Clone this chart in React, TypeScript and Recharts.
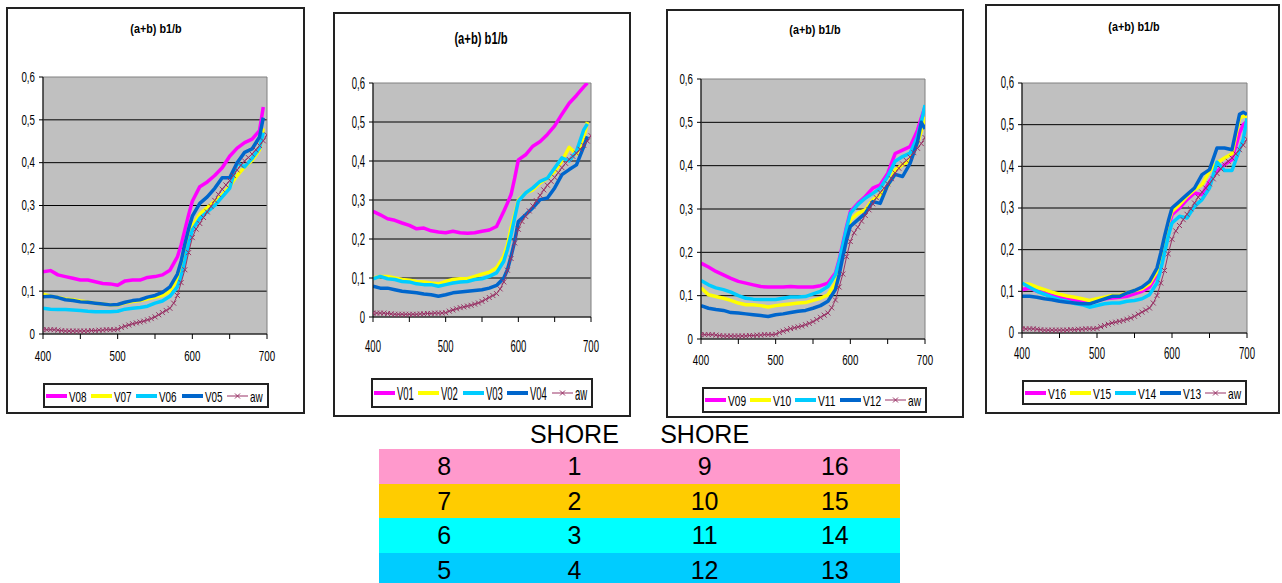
import React from 'react';
import { LineChart, Line, XAxis, YAxis, CartesianGrid, ReferenceArea } from 'recharts';

const FONT = "'Liberation Sans', Arial, Helvetica, sans-serif";

// wavelength grid (nm) of the sample series
const WL = [400, 410, 420, 430, 440, 450, 460, 470, 480, 490, 500, 510, 520, 530, 540, 550, 560, 570,
  580, 585, 590, 595, 600, 610, 620, 630, 640, 650, 660, 670, 680, 690, 695, 700];

// aw is read every 5 nm
const AW_WL = Array.from({ length: 61 }, (_, i) => 400 + 5 * i);
const AW = [0.010, 0.010, 0.010, 0.010, 0.009, 0.008, 0.007, 0.007, 0.007, 0.007,
  0.007, 0.007, 0.007, 0.008, 0.008, 0.009, 0.009, 0.010, 0.010, 0.010,
  0.011, 0.015, 0.018, 0.021, 0.024, 0.026, 0.028, 0.030, 0.033, 0.036,
  0.040, 0.045, 0.050, 0.055, 0.060, 0.072, 0.090, 0.120, 0.150, 0.190,
  0.225, 0.245, 0.258, 0.272, 0.285, 0.298, 0.312, 0.326, 0.338, 0.348,
  0.358, 0.370, 0.383, 0.394, 0.404, 0.412, 0.420, 0.430, 0.440, 0.451,
  0.465];

// panel 1
const V08 = [0.145, 0.148, 0.138, 0.134, 0.130, 0.126, 0.126, 0.122, 0.118, 0.117, 0.114, 0.124, 0.126, 0.126, 0.132, 0.134, 0.138, 0.149,
  0.180, 0.208, 0.243, 0.278, 0.310, 0.344, 0.355, 0.370, 0.388, 0.415, 0.434, 0.447, 0.455, 0.475, 0.530, null];
const V07 = [0.093, 0.088, 0.085, 0.082, 0.080, 0.077, 0.075, 0.072, 0.070, 0.068, 0.068, 0.073, 0.076, 0.078, 0.082, 0.086, 0.090, 0.100,
  0.128, 0.155, 0.190, 0.230, 0.252, 0.280, 0.295, 0.310, 0.325, 0.345, 0.370, 0.390, 0.405, 0.430, 0.480, null];
const V06 = [0.060, 0.058, 0.057, 0.057, 0.056, 0.055, 0.053, 0.052, 0.052, 0.052, 0.053, 0.058, 0.060, 0.062, 0.065, 0.072, 0.077, 0.088,
  0.110, 0.135, 0.170, 0.210, 0.243, 0.270, 0.285, 0.300, 0.320, 0.340, 0.400, 0.390, 0.410, 0.435, 0.470, null];
const V05 = [0.087, 0.088, 0.085, 0.080, 0.078, 0.075, 0.074, 0.072, 0.070, 0.068, 0.069, 0.074, 0.078, 0.080, 0.086, 0.090, 0.097, 0.110,
  0.140, 0.170, 0.210, 0.245, 0.275, 0.305, 0.320, 0.340, 0.365, 0.365, 0.400, 0.424, 0.432, 0.460, 0.505, null];

// panel 2
const V01 = [0.271, 0.262, 0.252, 0.248, 0.241, 0.235, 0.226, 0.228, 0.221, 0.218, 0.216, 0.220, 0.216, 0.215, 0.216, 0.220, 0.223, 0.232,
  0.271, 0.292, 0.314, 0.356, 0.403, 0.416, 0.438, 0.450, 0.468, 0.490, 0.520, 0.548, 0.568, 0.590, 0.600, null];
const V02 = [0.100, 0.104, 0.104, 0.100, 0.096, 0.094, 0.091, 0.090, 0.087, 0.085, 0.091, 0.096, 0.098, 0.098, 0.104, 0.110, 0.115, 0.126,
  0.156, 0.185, 0.228, 0.262, 0.300, 0.318, 0.326, 0.344, 0.356, 0.373, 0.400, 0.435, 0.418, 0.460, 0.500, null];
const V03 = [0.098, 0.104, 0.098, 0.096, 0.091, 0.090, 0.085, 0.083, 0.083, 0.079, 0.083, 0.087, 0.090, 0.091, 0.096, 0.098, 0.104, 0.113,
  0.143, 0.173, 0.211, 0.254, 0.297, 0.318, 0.331, 0.348, 0.356, 0.382, 0.408, 0.400, 0.425, 0.480, 0.495, null];
const V04 = [0.079, 0.074, 0.074, 0.070, 0.066, 0.064, 0.062, 0.059, 0.057, 0.053, 0.057, 0.062, 0.064, 0.066, 0.068, 0.070, 0.074, 0.081,
  0.100, 0.121, 0.156, 0.194, 0.245, 0.262, 0.280, 0.301, 0.305, 0.331, 0.365, 0.378, 0.390, 0.437, 0.463, null];

// panel 3
const V09 = [0.175, 0.166, 0.156, 0.148, 0.140, 0.133, 0.129, 0.125, 0.121, 0.120, 0.120, 0.120, 0.121, 0.120, 0.120, 0.120, 0.123, 0.129,
  0.152, 0.183, 0.221, 0.260, 0.294, 0.313, 0.329, 0.348, 0.356, 0.382, 0.428, 0.436, 0.444, 0.482, 0.510, 0.536];
const V10 = [0.118, 0.102, 0.098, 0.094, 0.089, 0.083, 0.079, 0.079, 0.077, 0.074, 0.077, 0.079, 0.081, 0.083, 0.084, 0.089, 0.094, 0.102,
  0.129, 0.160, 0.198, 0.237, 0.275, 0.290, 0.298, 0.321, 0.333, 0.352, 0.390, 0.402, 0.413, 0.452, 0.480, 0.513];
const V11 = [0.135, 0.125, 0.118, 0.114, 0.108, 0.100, 0.094, 0.092, 0.091, 0.091, 0.091, 0.094, 0.097, 0.097, 0.098, 0.104, 0.110, 0.121,
  0.148, 0.179, 0.217, 0.256, 0.290, 0.310, 0.325, 0.336, 0.348, 0.375, 0.410, 0.421, 0.429, 0.467, 0.500, 0.540];
const V12 = [0.077, 0.071, 0.068, 0.066, 0.061, 0.060, 0.058, 0.056, 0.054, 0.052, 0.056, 0.058, 0.061, 0.064, 0.066, 0.071, 0.077, 0.087,
  0.114, 0.148, 0.190, 0.229, 0.260, 0.275, 0.290, 0.317, 0.313, 0.355, 0.380, 0.375, 0.405, 0.455, 0.500, 0.485];

// panel 4
const V16 = [0.104, 0.108, 0.100, 0.096, 0.090, 0.086, 0.082, 0.080, 0.076, 0.074, 0.078, 0.082, 0.084, 0.086, 0.088, 0.094, 0.100, 0.110,
  0.140, 0.172, 0.212, 0.252, 0.284, 0.300, 0.320, 0.336, 0.332, 0.364, 0.388, 0.404, 0.416, 0.480, 0.500, 0.508];
const V15 = [0.118, 0.117, 0.110, 0.104, 0.098, 0.093, 0.089, 0.086, 0.082, 0.078, 0.082, 0.086, 0.090, 0.090, 0.096, 0.102, 0.106, 0.118,
  0.148, 0.184, 0.224, 0.264, 0.292, 0.308, 0.328, 0.344, 0.356, 0.388, 0.408, 0.420, 0.430, 0.515, 0.520, 0.520];
const V14 = [0.120, 0.110, 0.100, 0.093, 0.086, 0.080, 0.076, 0.071, 0.068, 0.062, 0.066, 0.070, 0.072, 0.072, 0.076, 0.078, 0.082, 0.092,
  0.120, 0.152, 0.192, 0.232, 0.264, 0.280, 0.276, 0.304, 0.320, 0.348, 0.410, 0.390, 0.390, 0.440, 0.465, 0.515];
const V13 = [0.088, 0.088, 0.086, 0.082, 0.080, 0.076, 0.074, 0.072, 0.070, 0.070, 0.076, 0.082, 0.088, 0.088, 0.096, 0.102, 0.110, 0.124,
  0.156, 0.192, 0.232, 0.268, 0.300, 0.316, 0.332, 0.348, 0.380, 0.392, 0.444, 0.444, 0.440, 0.525, 0.530, 0.524];

const TITLE = '(a+b) b1/b';
const Y_TICKS = [0, 0.1, 0.2, 0.3, 0.4, 0.5, 0.6];
const GRID_VALUES = [0.1, 0.2, 0.3, 0.4, 0.5];
const X_TICKS = [400, 450, 500, 550, 600, 650, 700];

const SERIES_COLORS = ['#FF00FF', '#FFFF00', '#00CCFF', '#0066CC'];
const AW_COLOR = '#993366';

const SHORE_LABELS = ['SHORE', 'SHORE'];
const TABLE_ROWS = [
  ['8', '1', '9', '16'],
  ['7', '2', '10', '15'],
  ['6', '3', '11', '14'],
  ['5', '4', '12', '13'],
];
const ROW_COLORS = ['#FF99CC', '#FFCC00', '#00FFFF', '#00CCFF'];

type Box = { l: number; t: number; r: number; b: number };
type PanelDef = {
  names: string[];
  series: (number | null)[][];
  box: Box;
  plot: Box;
  title: { x: number; y: number; size: number; sx: number };
  tick: { size: number; sx: number; xGap: number };
  legend: Box & { size: number; sx: number };
};

const PANELS: PanelDef[] = [
  {
    names: ['V08', 'V07', 'V06', 'V05'], series: [V08, V07, V06, V05],
    box: { l: 6, t: 7, r: 305, b: 414 }, plot: { l: 43, t: 77, r: 267, b: 334 },
    title: { x: 156, y: 29, size: 13.5, sx: 0.8 }, tick: { size: 15, sx: 0.65, xGap: 22 },
    legend: { l: 43, t: 383, r: 269, b: 408, size: 15, sx: 0.66 },
  },
  {
    names: ['V01', 'V02', 'V03', 'V04'], series: [V01, V02, V03, V04],
    box: { l: 333, t: 12, r: 631, b: 417 }, plot: { l: 373, t: 83, r: 591, b: 317 },
    title: { x: 481, y: 39, size: 16, sx: 0.7 }, tick: { size: 17, sx: 0.56, xGap: 29 },
    legend: { l: 371, t: 378, r: 593, b: 408, size: 19, sx: 0.5 },
  },
  {
    names: ['V09', 'V10', 'V11', 'V12'], series: [V09, V10, V11, V12],
    box: { l: 666, t: 9, r: 964, b: 418 }, plot: { l: 701, t: 79, r: 925, b: 339 },
    title: { x: 815, y: 30, size: 13.5, sx: 0.8 }, tick: { size: 15, sx: 0.65, xGap: 21 },
    legend: { l: 702, t: 387, r: 927, b: 413, size: 15, sx: 0.68 },
  },
  {
    names: ['V16', 'V15', 'V14', 'V13'], series: [V16, V15, V14, V13],
    box: { l: 985, t: 4, r: 1280, b: 414 }, plot: { l: 1022, t: 83, r: 1247, b: 333 },
    title: { x: 1134, y: 27, size: 13.5, sx: 0.8 }, tick: { size: 16, sx: 0.6, xGap: 21 },
    legend: { l: 1022, t: 380, r: 1247, b: 405, size: 15, sx: 0.68 },
  },
];

const awRows = AW_WL.map((wl, i) => ({ wl, aw: AW[i] }));

const fmtY = (v: number) => (v === 0 ? '0' : v.toFixed(1).replace('.', ','));

const renderAwDot = (props: any) => {
  const { cx, cy, index } = props;
  if (cx == null || cy == null) return <g key={`aw-${index}`} />;
  const s = 2.5;
  return (
    <path
      key={`aw-${index}`}
      d={`M${cx - s},${cy - s}L${cx + s},${cy + s}M${cx - s},${cy + s}L${cx + s},${cy - s}`}
      stroke={AW_COLOR}
      strokeWidth={1}
      fill="none"
    />
  );
};

const Legend4: React.FC<{ p: PanelDef }> = ({ p }) => {
  const { l, t, r, b, size, sx } = p.legend;
  const w = r - l;
  const h = b - t;
  const names = [...p.names, 'aw'];
  return (
    <div style={{ position: 'absolute', left: l, top: t, width: w, height: h, border: '2px solid #222', boxSizing: 'border-box', background: '#fff' }}>
      {names.map((n, i) => {
        const x = 1 + i * w * 0.2;
        const mid = (h - 4) / 2;
        return (
          <React.Fragment key={n}>
            {n === 'aw' ? (
              <svg style={{ position: 'absolute', left: x, top: mid - 5 }} width={21} height={10}>
                <line x1={0} y1={5} x2={21} y2={5} stroke={AW_COLOR} strokeWidth={1} />
                <path d="M8,2.5L13,7.5M8,7.5L13,2.5" stroke={AW_COLOR} strokeWidth={1} />
              </svg>
            ) : (
              <div style={{ position: 'absolute', left: x, top: mid - 2, width: 21, height: 4, background: SERIES_COLORS[i] }} />
            )}
            <span
              style={{
                position: 'absolute', left: x + 23, top: mid, fontSize: size, lineHeight: 1, fontFamily: FONT,
                whiteSpace: 'nowrap', transform: `translateY(-50%) scaleX(${sx})`, transformOrigin: 'left center', color: '#000',
              }}
            >
              {n}
            </span>
          </React.Fragment>
        );
      })}
    </div>
  );
};

const Panel: React.FC<{ p: PanelDef }> = ({ p }) => {
  const W = p.box.r - p.box.l;
  const H = p.box.b - p.box.t;
  const rows = WL.map((wl, i) => {
    const row: Record<string, number | null> = { wl };
    p.names.forEach((n, k) => {
      row[n] = p.series[k][i];
    });
    return row;
  });

  const xTick = (props: any) => {
    const { x, y, payload } = props;
    if (payload.value % 100 !== 0) return <g />;
    return (
      <text
        x={0} y={0}
        transform={`translate(${x},${y - 5 + p.tick.xGap}) scale(${p.tick.sx},1)`}
        textAnchor="middle" dominantBaseline="central"
        fontSize={p.tick.size} fontFamily={FONT} fill="#000"
      >
        {payload.value}
      </text>
    );
  };

  const yTick = (props: any) => {
    const { x, y, payload } = props;
    return (
      <text
        x={0} y={0}
        transform={`translate(${x},${y}) scale(${p.tick.sx},1)`}
        textAnchor="end" dominantBaseline="central"
        fontSize={p.tick.size} fontFamily={FONT} fill="#000"
      >
        {fmtY(payload.value)}
      </text>
    );
  };

  return (
    <>
      <div style={{ position: 'absolute', left: p.box.l, top: p.box.t, width: W, height: H, border: '2px solid #222', boxSizing: 'border-box' }} />
      <div
        style={{
          position: 'absolute', left: p.title.x, top: p.title.y, transform: `translate(-50%, -50%) scaleX(${p.title.sx})`,
          fontFamily: FONT, fontWeight: 'bold', fontSize: p.title.size, lineHeight: 1, whiteSpace: 'nowrap', color: '#000',
        }}
      >
        {TITLE}
      </div>
      <div style={{ position: 'absolute', left: p.box.l, top: p.box.t }}>
        <LineChart
          width={W}
          height={H}
          data={rows}
          margin={{ top: p.plot.t - p.box.t, right: p.box.r - p.plot.r, bottom: 0, left: 0 }}
        >
          <CartesianGrid vertical={false} horizontalValues={GRID_VALUES} stroke="#000" strokeWidth={1} fill="#C0C0C0" fillOpacity={1} />
          <ReferenceArea x1={400} x2={700} y1={0} y2={0.6} fill="none" stroke="#808080" strokeWidth={1} ifOverflow="visible" />
          <XAxis
            dataKey="wl" type="number" domain={[400, 700]} ticks={X_TICKS} interval={0} allowDataOverflow
            height={p.box.b - p.plot.b} tickSize={5} tickMargin={0}
            axisLine={{ stroke: '#000' }} tickLine={{ stroke: '#000' }} tick={xTick}
          />
          <YAxis
            type="number" domain={[0, 0.6]} ticks={Y_TICKS} interval={0} allowDataOverflow
            width={p.plot.l - p.box.l} tickSize={4} tickMargin={4}
            axisLine={{ stroke: '#000' }} tickLine={{ stroke: '#000' }} tick={yTick}
          />
          {p.names.map((n, k) => (
            <Line
              key={n} type="linear" dataKey={n} stroke={SERIES_COLORS[k]} strokeWidth={3.5}
              strokeLinejoin="round" dot={false} activeDot={false} isAnimationActive={false}
            />
          ))}
          <Line
            data={awRows} type="linear" dataKey="aw" stroke={AW_COLOR} strokeWidth={1}
            dot={renderAwDot} activeDot={false} isAnimationActive={false}
          />
        </LineChart>
      </div>
      <Legend4 p={p} />
    </>
  );
};

const SiteTable: React.FC = () => {
  const left = 379;
  const top = 449;
  const width = 521;
  const rowH = 34.5;
  const colW = width / 4;
  return (
    <>
      {SHORE_LABELS.map((s, i) => (
        <div
          key={i}
          style={{
            position: 'absolute', left: left + colW * (i + 1.5), top: 434, transform: 'translate(-50%, -50%)',
            fontFamily: FONT, fontSize: 25, lineHeight: 1, color: '#000', whiteSpace: 'nowrap',
          }}
        >
          {s}
        </div>
      ))}
      {TABLE_ROWS.map((row, r) => (
        <div key={r} style={{ position: 'absolute', left, top: top + r * rowH, width, height: rowH + 0.5, background: ROW_COLORS[r] }}>
          {row.map((c, k) => (
            <div
              key={k}
              style={{
                position: 'absolute', left: colW * (k + 0.5), top: rowH / 2, transform: 'translate(-50%, -50%)',
                fontFamily: FONT, fontSize: 25, lineHeight: 1, color: '#000',
              }}
            >
              {c}
            </div>
          ))}
        </div>
      ))}
    </>
  );
};

export default function App() {
  return (
    <div style={{ position: 'absolute', left: 0, top: 0, width: 1282, height: 583, background: '#fff', overflow: 'hidden' }}>
      {PANELS.map((p, i) => (
        <Panel key={i} p={p} />
      ))}
      <SiteTable />
    </div>
  );
}
